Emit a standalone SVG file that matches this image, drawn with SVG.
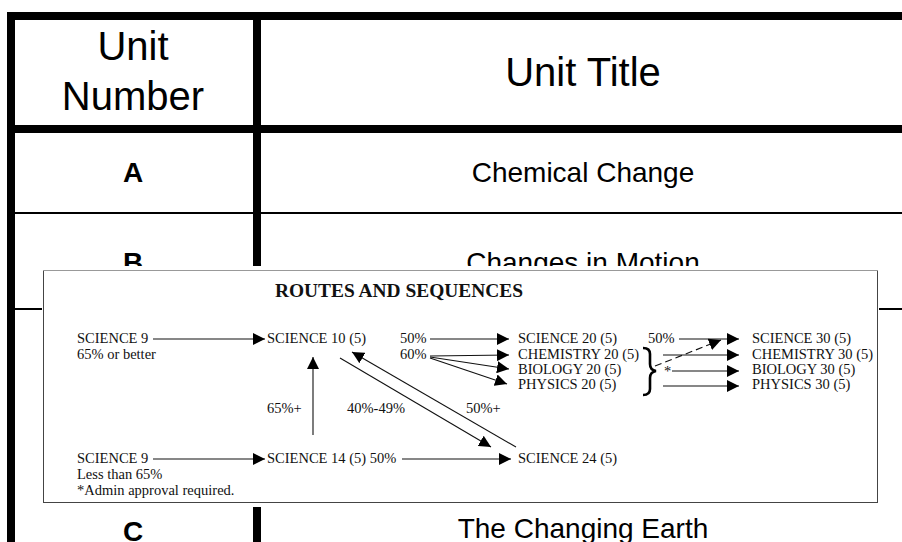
<svg xmlns="http://www.w3.org/2000/svg" width="902" height="542" viewBox="0 0 902 542">
<style>
.tb{fill:#000}
.hd{font-family:"Liberation Sans",Arial,sans-serif;font-size:40px;fill:#000;text-anchor:middle}
.cl{font-family:"Liberation Sans",Arial,sans-serif;font-size:28px;fill:#000;text-anchor:middle}
.b{font-weight:bold}
.s{font-family:"Liberation Serif","Times New Roman",serif;font-size:14.5px;fill:#111}
.ln{stroke:#111;stroke-width:1.1;fill:none}
.ar{stroke:#111;stroke-width:1.1;fill:none;marker-end:url(#ah)}
</style>
<defs>
<marker id="ah" markerUnits="userSpaceOnUse" markerWidth="13" markerHeight="12" refX="12" refY="6" orient="auto" viewBox="0 0 13 12">
<path d="M0,0 L12,6 L0,12 z" fill="#000"/>
</marker>
</defs>
<rect width="902" height="542" fill="#fff"/>
<g id="table">
<rect class="tb" x="7" y="12" width="895" height="8"/>
<rect class="tb" x="7" y="12" width="8" height="530"/>
<rect class="tb" x="253" y="12" width="8" height="530"/>
<rect class="tb" x="7" y="125" width="895" height="8"/>
<rect class="tb" x="7" y="212" width="895" height="2"/>
<rect class="tb" x="7" y="308" width="895" height="2"/>
</g>
<g id="header">
<text class="hd" x="133" y="60">Unit</text>
<text class="hd" x="133" y="110">Number</text>
<text class="hd" x="583" y="86">Unit Title</text>
</g>
<g id="row-a">
<text class="cl b" x="133" y="182">A</text>
<text class="cl" x="583" y="182">Chemical Change</text>
</g>
<g id="row-b">
<text class="cl b" x="133" y="272">B</text>
<text class="cl" x="583" y="272">Changes in Motion</text>
</g>
<g id="row-c">
<text class="cl b" x="133" y="541">C</text>
<text class="cl" x="583" y="538">The Changing Earth</text>
</g>
<g id="inset">
<rect x="42" y="266" width="837" height="241" fill="#fff"/>
<rect x="43.5" y="270.5" width="834" height="232" fill="none" stroke="#444" stroke-width="1"/>
<line x1="43" y1="270.5" x2="878" y2="270.5" stroke="#999" stroke-width="1"/>
<text x="275" y="297" font-family="'Liberation Serif','Times New Roman',serif" font-size="18" font-weight="bold" fill="#111" textLength="248" lengthAdjust="spacingAndGlyphs">ROUTES AND SEQUENCES</text>
</g>
<g id="science9-top">
<text class="s" x="77" y="343">SCIENCE 9</text>
<text class="s" x="77" y="359">65% or better</text>
</g>
<g id="science10"><text class="s" x="267" y="343">SCIENCE 10 (5)</text></g>
<g id="pct-top">
<text class="s" x="400" y="343">50%</text>
<text class="s" x="400" y="359">60%</text>
</g>
<g id="grade20">
<text class="s" x="518" y="343">SCIENCE 20 (5)</text>
<text class="s" x="518" y="359">CHEMISTRY 20 (5)</text>
<text class="s" x="518" y="374">BIOLOGY 20 (5)</text>
<text class="s" x="518" y="389">PHYSICS 20 (5)</text>
</g>
<g id="pct-right">
<text class="s" x="648" y="343">50%</text>
<text class="s" x="664" y="376">*</text>
<path d="M643,348 Q650,348 650,354 L650,364 Q650,370 656,371 Q650,372 650,378 L650,389 Q650,395 643,395" fill="none" stroke="#000" stroke-width="2.6"/>
</g>
<g id="grade30">
<text class="s" x="752" y="343">SCIENCE 30 (5)</text>
<text class="s" x="752" y="359">CHEMISTRY 30 (5)</text>
<text class="s" x="752" y="374">BIOLOGY 30 (5)</text>
<text class="s" x="752" y="389">PHYSICS 30 (5)</text>
</g>
<g id="labels-mid">
<text class="s" x="267" y="413">65%+</text>
<text class="s" x="347" y="413">40%-49%</text>
<text class="s" x="466" y="413">50%+</text>
</g>
<g id="science9-bottom">
<text class="s" x="77" y="463">SCIENCE 9</text>
<text class="s" x="77" y="479">Less than 65%</text>
<text class="s" x="77" y="495">*Admin approval required.</text>
</g>
<g id="science14"><text class="s" x="267" y="463">SCIENCE 14 (5) 50%</text></g>
<g id="science24"><text class="s" x="518" y="463">SCIENCE 24 (5)</text></g>
<g id="connectors">
<line class="ar" x1="153" y1="339" x2="265" y2="339"/>
<line class="ar" x1="430" y1="339" x2="509" y2="339"/>
<line class="ar" x1="430" y1="356" x2="509" y2="355"/>
<line class="ar" x1="430" y1="357" x2="509" y2="369"/>
<line class="ar" x1="430" y1="358" x2="507" y2="384"/>
<line class="ar" x1="679" y1="339" x2="739" y2="339"/>
<line class="ar" x1="655" y1="366" x2="721" y2="340" stroke-dasharray="7,4"/>
<line class="ar" x1="663" y1="355" x2="739" y2="355"/>
<line class="ar" x1="672" y1="371" x2="739" y2="371"/>
<line class="ar" x1="663" y1="386" x2="739" y2="386"/>
<line class="ar" x1="313" y1="435" x2="313" y2="357"/>
<line class="ar" x1="340" y1="358" x2="491" y2="447"/>
<line class="ar" x1="516" y1="447" x2="352" y2="352"/>
<line class="ar" x1="153" y1="459" x2="265" y2="459"/>
<line class="ar" x1="402" y1="459" x2="511" y2="459"/>
</g>
</svg>
